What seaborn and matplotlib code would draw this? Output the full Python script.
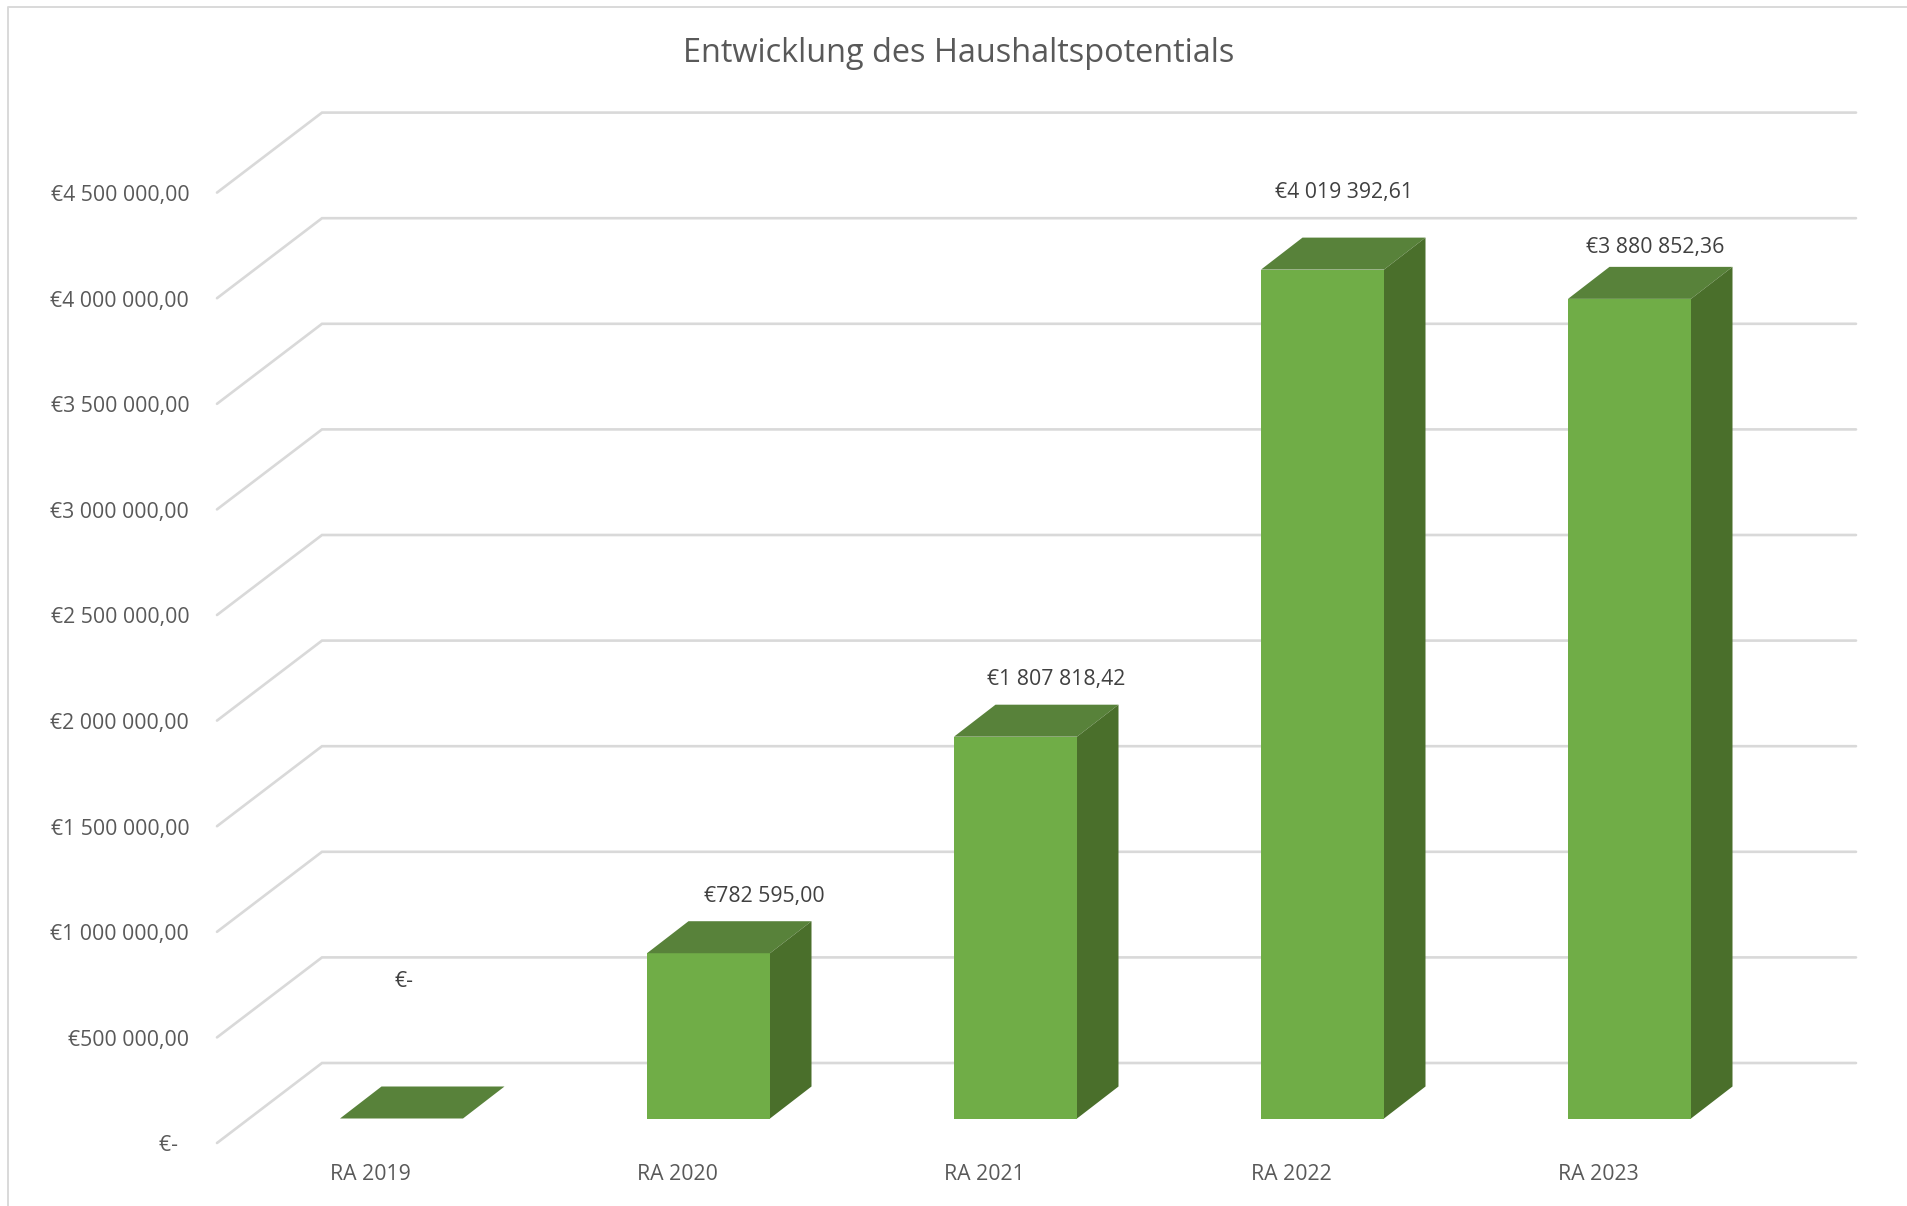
import matplotlib
matplotlib.use('Agg')
import matplotlib.pyplot as plt
from matplotlib.lines import Line2D
from matplotlib.transforms import ScaledTranslation
import seaborn as sns

years = ['RA 2019', 'RA 2020', 'RA 2021', 'RA 2022', 'RA 2023']
values = [0, 782595.00, 1807818.42, 4019392.61, 3880852.36]
value_labels = ['€-', '€782 595,00', '€1 807 818,42', '€4 019 392,61', '€3 880 852,36']
tick_values = [0, 500000, 1000000, 1500000, 2000000, 2500000, 3000000, 3500000, 4000000, 4500000]
tick_labels = ['€-  ', '€500 000,00', '€1 000 000,00', '€1 500 000,00', '€2 000 000,00',
               '€2 500 000,00', '€3 000 000,00', '€3 500 000,00', '€4 000 000,00', '€4 500 000,00']

# Excel style placement of the labels, pixels from the bar centre and baseline
label_dx = [3, 56, 41, 22, 26]
label_dy = [137, 222, 439, 926, 871]

FRONT = '#70AD47'
TOP = '#58823A'
SIDE = '#4A6F2B'
GRID = '#D9D9D9'

W, H = 1908, 1206
sns.set_theme(style='white')
plt.rcParams['font.family'] = ['Open Sans', 'DejaVu Sans']

# pixel geometry of the fake 3D box
px_x = 307.0                 # pixels per category
px_y = 500000 / 105.6        # value per pixel
x0_px, base_px = 401.5, 1118.5
left, right, bottom, top = 217, 1856, 1143, 90

fig = plt.figure(figsize=(W / 100, H / 100), dpi=100, facecolor='white')
ax = fig.add_axes([left / W, 1 - bottom / H, (right - left) / W, (bottom - top) / H])

sns.barplot(x=years, y=values, color=FRONT, saturation=1, width=123 / px_x,
            linewidth=0, ax=ax, zorder=3)

ax.set_xlim((left - x0_px) / px_x, (right - x0_px) / px_x)
ax.set_ylim((base_px - bottom) * px_y, (base_px - top) * px_y)

bar_w = 123 / px_x
depth_x, depth_y = 41.5 / px_x, 32 * px_y
wall_x = (322 - x0_px) / px_x
wall_y = 55.5 * px_y
front_y = -24.5 * px_y
xmin, xmax = ax.get_xlim()

# floor / wall gridlines
for v in tick_values:
    ax.plot([xmin, wall_x, xmax], [v + front_y, v + wall_y, v + wall_y],
            color=GRID, lw=1.9, zorder=1, clip_on=False, solid_joinstyle='miter')

# top and side faces
for i, v in enumerate(values):
    l, r = i - bar_w / 2, i + bar_w / 2
    ax.fill([l, r, r + depth_x, l + depth_x], [v, v, v + depth_y, v + depth_y],
            color=TOP, lw=0, zorder=4)
    if v > 0:
        ax.fill([r, r + depth_x, r + depth_x, r], [0, depth_y, v + depth_y, v],
                color=SIDE, lw=0, zorder=4)
    ax.annotate(value_labels[i], (i, 0), xytext=(label_dx[i], label_dy[i]),
                textcoords='offset pixels', ha='center', va='center',
                color='#404040', fontsize=15.3, zorder=5)

sns.despine(ax=ax, left=True, bottom=True)
ax.set_yticks([v + front_y for v in tick_values], tick_labels)
ax.set_xticks([i - 31.5 / px_x for i in range(len(years))], years)
ax.tick_params(axis='y', length=0, pad=20, labelsize=15.3, labelcolor='#595959')
ax.tick_params(axis='x', length=0, pad=15, labelsize=15.3, labelcolor='#595959')
ax.set_xlabel('')
ax.set_ylabel('')

# y labels sit a touch below the end of their gridline
for lab in ax.get_yticklabels():
    lab.set_transform(lab.get_transform() + ScaledTranslation(0, -0.4 / 100, fig.dpi_scale_trans))

fig.text(959 / W, 1 - 54 / H, 'Entwicklung des Haushaltspotentials', ha='center', va='center',
         color='#595959', fontsize=23.4)

# chart frame, only top and left are inside the crop
fig.add_artist(Line2D([8 / W, 8 / W, 1], [0, 1 - 7 / H, 1 - 7 / H], color=GRID, lw=1.4))

fig.savefig('out.png', dpi=100, facecolor='white')
